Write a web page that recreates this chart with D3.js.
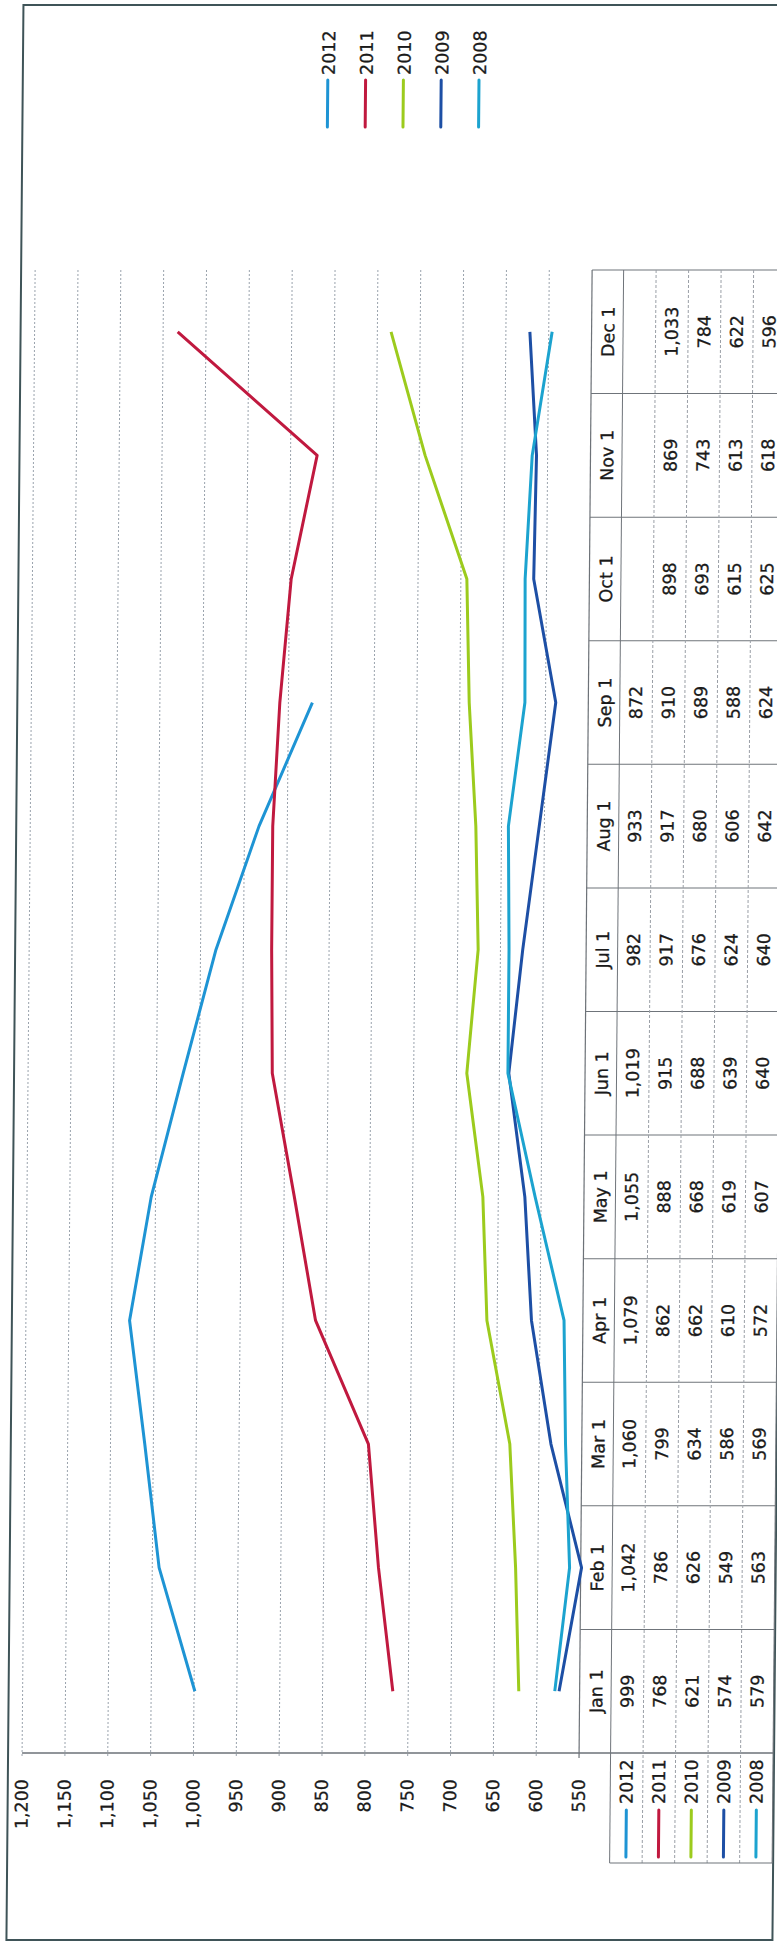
<!DOCTYPE html>
<html>
<head>
<meta charset="utf-8">
<script src="https://cdn.jsdelivr.net/npm/d3@7"></script>
<style>
  html, body { margin: 0; padding: 0; background: #fff; }
  svg { display: block; }
  text { font-family: "DejaVu Sans", Verdana, sans-serif; fill: #1a1a1a; stroke: #1a1a1a; stroke-width: 0.3px; }
</style>
</head>
<body>
<svg id="chart" width="777" height="1942"></svg>
<script>
// ---- data ----
const months = ["Jan 1","Feb 1","Mar 1","Apr 1","May 1","Jun 1","Jul 1","Aug 1","Sep 1","Oct 1","Nov 1","Dec 1"];
const seriesNames = ["2012","2011","2010","2009","2008"];
const v2012 = [999, 1042, 1060, 1079, 1055, 1019, 982, 933, 872, null, null, null];
const v2011 = [768, 786, 799, 862, 888, 915, 917, 917, 910, 898, 869, 1033];
const v2010 = [621, 626, 634, 662, 668, 688, 676, 680, 689, 693, 743, 784];
const v2009 = [574, 549, 586, 610, 619, 639, 624, 606, 588, 615, 613, 622];
const v2008 = [579, 563, 569, 572, 607, 640, 640, 642, 624, 625, 618, 596];
const valueTicks = [550, 600, 650, 700, 750, 800, 850, 900, 950, 1000, 1050, 1100, 1150, 1200];
const colors = ["#1E94D4", "#C0193F", "#9CCB1D", "#1D4FA5", "#1CA3CF"];

const series = seriesNames.map((name, i) => ({
  name, color: colors[i], values: [v2012, v2011, v2010, v2009, v2008][i]
}));

// ---- layout (chart is drawn turned a quarter turn, as in the scan) ----
const svg = d3.select("#chart");
const g = svg.append("g").attr("transform", "translate(8.5,0) skewX(-0.504)");

const plotTop = 270, plotBottom = 1753;
const x = d3.scaleLinear().domain([550, 1200]).range([586, 29]);
const y = d3.scaleBand().domain(months).range([plotBottom, plotTop]);
const yc = m => y(m) + y.bandwidth() / 2;

const headerX0 = 586, headerX1 = 617.5, rowW = 32.5;
const rowX = i => headerX1 + i * rowW;
const tableRight = rowX(series.length);
const labelColBottom = 1863;
const fmt = d3.format(",");
const FS = 17.5;

// outer border
g.append("rect").attr("x", 15).attr("y", 5).attr("width", 766).attr("height", 1935)
  .attr("fill", "none").attr("stroke", "#3f5458").attr("stroke-width", 2);

// gridlines
g.append("g").selectAll("line").data(valueTicks.filter(v => v !== 550)).join("line")
  .attr("x1", d => x(d)).attr("x2", d => x(d))
  .attr("y1", plotTop).attr("y2", plotBottom + 5)
  .attr("stroke", "#9aa3ad").attr("stroke-width", 1).attr("stroke-dasharray", "2,2");

// value axis line and category axis line
g.append("line").attr("x1", x(1200)).attr("x2", tableRight)
  .attr("y1", plotBottom).attr("y2", plotBottom).attr("stroke", "#6d7278").attr("stroke-width", 1.3);
g.append("line").attr("x1", headerX0).attr("x2", headerX0)
  .attr("y1", plotTop).attr("y2", plotBottom + 5).attr("stroke", "#6d7278").attr("stroke-width", 1.2);

// value axis labels
g.append("g").selectAll("text").data(valueTicks).join("text")
  .attr("transform", d => `translate(${x(d)},1779) rotate(-90)`)
  .attr("text-anchor", "end").attr("dominant-baseline", "central")
  .attr("font-size", FS).text(d => fmt(d));

// ---- data table ----
const table = g.append("g");
// month separators
table.selectAll("line.msep").data(d3.range(1, months.length + 1)).join("line")
  .attr("class", "msep")
  .attr("x1", headerX0).attr("x2", tableRight)
  .attr("y1", k => plotBottom - k * y.bandwidth()).attr("y2", k => plotBottom - k * y.bandwidth())
  .attr("stroke", "#6f747a").attr("stroke-width", 1);
// row separators
table.selectAll("line.rsep").data(d3.range(0, series.length + 1)).join("line")
  .attr("class", "rsep")
  .attr("x1", i => rowX(i)).attr("x2", i => rowX(i))
  .attr("y1", plotTop).attr("y2", labelColBottom)
  .attr("stroke", i => (i === 0 || i === series.length) ? "#6f747a" : "#9a9fa6")
  .attr("stroke-width", 1)
  .attr("stroke-dasharray", i => (i === 0 || i === series.length) ? null : "3,2");
// label column bottom edge
table.append("line").attr("x1", rowX(0)).attr("x2", tableRight)
  .attr("y1", labelColBottom).attr("y2", labelColBottom)
  .attr("stroke", "#6f747a").attr("stroke-width", 1.2);

// header texts
table.selectAll("text.hdr").data(months).join("text").attr("class", "hdr")
  .attr("transform", m => `translate(${(headerX0 + headerX1) / 2 + 1},${yc(m)}) rotate(-90)`)
  .attr("text-anchor", "middle").attr("dominant-baseline", "central")
  .attr("font-size", FS).text(m => m);

// values
series.forEach((s, i) => {
  table.append("g").selectAll("text").data(months.map((m, j) => ({ m, v: s.values[j] })).filter(d => d.v != null))
    .join("text")
    .attr("transform", d => `translate(${rowX(i) + rowW / 2},${yc(d.m)}) rotate(-90)`)
    .attr("text-anchor", "middle").attr("dominant-baseline", "central")
    .attr("font-size", FS).text(d => fmt(d.v));
  // row label: legend key + name
  const cx = rowX(i) + rowW / 2;
  table.append("line").attr("x1", cx).attr("x2", cx).attr("y1", 1857).attr("y2", 1810)
    .attr("stroke", s.color).attr("stroke-width", 3).attr("stroke-linecap", "round");
  table.append("text").attr("transform", `translate(${cx},1804) rotate(-90)`)
    .attr("text-anchor", "start").attr("dominant-baseline", "central")
    .attr("font-size", FS).text(s.name);
});

// ---- series lines ----
const line = d3.line().defined(d => d.v != null).x(d => x(d.v)).y(d => yc(d.m));
g.append("g").selectAll("path").data(series).join("path")
  .attr("d", s => line(months.map((m, j) => ({ m, v: s.values[j] }))))
  .attr("fill", "none").attr("stroke", s => s.color).attr("stroke-width", 3)
  .attr("stroke-linejoin", "round");

// ---- legend ----
const legend = g.append("g");
series.forEach((s, i) => {
  const lx = 320 + i * 37.8;
  legend.append("line").attr("x1", lx).attr("x2", lx).attr("y1", 127).attr("y2", 80)
    .attr("stroke", s.color).attr("stroke-width", 3).attr("stroke-linecap", "round");
  legend.append("text").attr("transform", `translate(${lx + 1},75) rotate(-90)`)
    .attr("text-anchor", "start").attr("dominant-baseline", "central")
    .attr("font-size", FS).text(s.name);
});
</script>
</body>
</html>
